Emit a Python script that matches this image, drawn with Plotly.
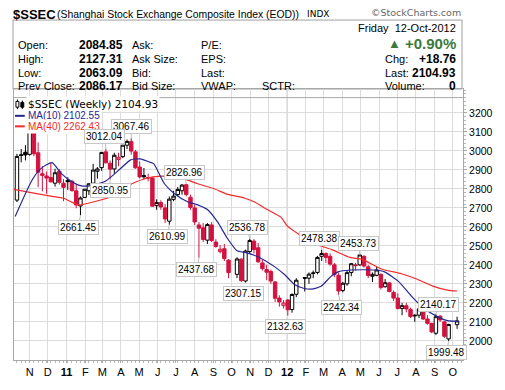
import plotly.graph_objects as go

# ---------------- data (weekly candles, Monday of each week) ----------------
dates = ["2010-10-11","2010-10-18","2010-10-25","2010-11-01","2010-11-08","2010-11-15","2010-11-22","2010-11-29",
         "2010-12-06","2010-12-13","2010-12-20","2010-12-27","2011-01-03","2011-01-10","2011-01-17","2011-01-24",
         "2011-01-31","2011-02-07","2011-02-14","2011-02-21","2011-02-28","2011-03-07","2011-03-14","2011-03-21",
         "2011-03-28","2011-04-04","2011-04-11","2011-04-18","2011-04-25","2011-05-02","2011-05-09","2011-05-16",
         "2011-05-23","2011-05-30","2011-06-06","2011-06-13","2011-06-20","2011-06-27","2011-07-04","2011-07-11",
         "2011-07-18","2011-07-25","2011-08-01","2011-08-08","2011-08-15","2011-08-22","2011-08-29","2011-09-05",
         "2011-09-12","2011-09-19","2011-09-26","2011-10-10","2011-10-17","2011-10-24","2011-10-31","2011-11-07",
         "2011-11-14","2011-11-21","2011-11-28","2011-12-05","2011-12-12","2011-12-19","2011-12-26","2012-01-02",
         "2012-01-09","2012-01-16","2012-01-30","2012-02-06","2012-02-13","2012-02-20","2012-02-27","2012-03-05",
         "2012-03-12","2012-03-19","2012-03-26","2012-04-02","2012-04-09","2012-04-16","2012-04-23","2012-04-30",
         "2012-05-07","2012-05-14","2012-05-21","2012-05-28","2012-06-04","2012-06-11","2012-06-18","2012-06-25",
         "2012-07-02","2012-07-09","2012-07-16","2012-07-23","2012-07-30","2012-08-06","2012-08-13","2012-08-20",
         "2012-08-27","2012-09-03","2012-09-10","2012-09-17","2012-09-24","2012-10-08"]
opens  = [2741,2980,2993,2982,3140,2990,2880,2868,2860,2830,2893,2830,2845,2840,2790,2710,
          2755,2790,2830,2893,2912,2995,2935,2905,2955,2970,3030,3050,2995,2915,2870,2860,
          2858,2712,2728,2700,2630,2745,2770,2790,2822,2756,2700,2610,2595,2530,2610,2520,
          2470,2485,2425,2350,2430,2315,2470,2525,2490,2410,2375,2365,2310,2225,2185,2215,
          2165,2245,2333,2330,2355,2360,2445,2460,2445,2400,2345,2265,2300,2360,2400,2400,
          2445,2390,2340,2345,2350,2285,2305,2255,2225,2170,2185,2165,2135,2135,2165,2115,
          2092,2040,2130,2100,2010,2085]
highs  = [2985,3010,3030,3140,3187,3045,2920,2892,2937,2906,2905,2852,2861,2848,2824,2760,
          2800,2830,2932,2915,2995,3012.04,2950,2990,2990,3030,3060,3067.46,3005,2945,2910,2880,
          2860,2745,2740,2720,2760,2790,2810,2826,2826.96,2770,2715,2625,2620,2620,2625,2535,
          2505,2510,2430,2440,2435,2480,2536.78,2535,2515,2425,2400,2375,2315,2240,2215,2220,
          2250,2330,2335,2360,2370,2447,2478.38,2465,2460,2410,2360,2310,2370,2410,2410,2453.73,
          2450,2400,2360,2390,2355,2325,2310,2265,2250,2200,2200,2175,2140,2180,2170,2135,
          2095,2140.17,2135,2105,2090,2127]
lows   = [2731,2940,2950,2975,2972,2809,2787,2774,2834,2812,2823,2735,2795,2785,2698,2661.45,
          2752,2768,2822,2854,2895,2935,2850.95,2880,2920,2962,3010,2980,2906,2855,2850,2840,
          2705,2690,2690,2620,2610.99,2735,2760,2770,2760,2690,2610,2437.68,2520,2510,2520,2490,
          2460,2420,2330,2330,2310,2307.15,2460,2460,2410,2370,2319,2300,2205,2180,2170,2132.63,
          2148,2230,2260,2300,2330,2350,2420,2410,2395,2335,2242.34,2255,2290,2340,2370,2395,
          2385,2330,2310,2340,2270,2280,2255,2210,2165,2135,2150,2120,2100,2120,2110,2085,
          2040,2030,2100,2015,1999.48,2063]
closes = [2971,2976,2979,3129,2985,2888,2871,2857,2837,2885,2835,2808,2838,2791,2715,2752,
          2798,2827,2899,2905,2992,2937,2904,2977,2967,3030,3050,2999,2911,2863,2864,2858,
          2709,2728,2705,2642,2746,2762,2797,2820,2770,2702,2626,2593,2534,2612,2528,2497,
          2482,2433,2359,2431,2317,2473,2528,2481,2416,2380,2361,2315,2224,2205,2199,2163,
          2244,2319,2330,2351,2357,2439,2460,2439,2404,2349,2262,2303,2359,2406,2396,2452,
          2394,2344,2350,2373,2281,2306,2260,2225,2170,2185,2168,2128,2132,2168,2115,2092,
          2047,2127,2110,2024,2086,2104.93]

# moving averages
ma10_dates = ["2010-10-08","2010-11-06","2010-11-20","2010-12-08","2010-12-23","2011-01-08","2011-01-24",
              "2011-02-11","2011-03-07","2011-03-30","2011-04-17","2011-05-03","2011-05-17","2011-05-25",
              "2011-06-12","2011-06-28","2011-07-21","2011-08-06","2011-08-22","2011-09-08","2011-09-24",
              "2011-10-10","2011-10-25","2011-11-16","2011-12-12","2011-12-28","2012-01-13","2012-01-28",
              "2012-02-10","2012-02-26","2012-03-13","2012-03-25","2012-04-15","2012-05-25","2012-06-10",
              "2012-07-03","2012-07-24","2012-08-14","2012-09-06","2012-09-22","2012-10-08"]
ma10_vals = [2655,2852,2908,2938,2882,2842,2817,2817,2842,2903,2953,2958,2943,2933,2827,2776,2731,2716,
             2691,2625,2540,2474,2464,2439,2388,2348,2297,2277,2272,2287,2338,2363,2373,2373,2363,2313,
             2237,2171,2126,2106,2102.55]
ma40_dates = ["2010-10-06","2010-11-01","2010-12-08","2010-12-27","2011-01-21","2011-02-14","2011-03-13",
              "2011-04-07","2011-05-09","2011-06-07","2011-07-10","2011-08-06","2011-09-01","2011-09-25",
              "2011-10-23","2011-11-08","2011-11-29","2011-12-22","2012-01-01","2012-01-23","2012-02-13",
              "2012-03-16","2012-04-14","2012-05-04","2012-06-05","2012-07-08","2012-08-04","2012-08-30",
              "2012-09-22","2012-10-08"]
ma40_vals = [2797,2782,2761,2751,2716,2731,2756,2807,2852,2867,2857,2827,2802,2771,2751,2731,2691,2650,
             2605,2555,2514,2479,2439,2429,2378,2353,2323,2287,2267,2262.43]

month_ticks = ["2010-11-01","2010-12-01","2011-01-01","2011-02-01","2011-03-01","2011-04-01","2011-05-01",
               "2011-06-01","2011-07-01","2011-08-01","2011-09-01","2011-10-01","2011-11-01","2011-12-01",
               "2012-01-01","2012-02-01","2012-03-01","2012-04-01","2012-05-01","2012-06-01","2012-07-01",
               "2012-08-01","2012-09-01","2012-10-01"]
month_text = ["N","D","<b>11</b>","F","M","A","M","J","J","A","S","O","N","D","<b>12</b>",
              "F","M","A","M","J","J","A","S","O"]
y_ticks = [2000,2100,2200,2300,2400,2500,2600,2700,2800,2900,3000,3100,3200]

# callout labels: (date, value, text, dx, dy)
callouts = [("2011-04-18",3067.46,"3067.46",0,-12),("2011-03-07",3012.04,"3012.04",-1,-12),
            ("2011-03-14",2850.95,"2850.95",0,11),("2011-01-24",2661.45,"2661.45",-2,12),
            ("2011-07-18",2826.96,"2826.96",-2,-11),("2011-06-20",2610.99,"2610.99",-2,12),
            ("2011-08-08",2437.68,"2437.68",-2,12),("2011-10-31",2536.78,"2536.78",-2,-11),
            ("2011-10-24",2307.15,"2307.15",-2,11),("2012-01-02",2132.63,"2132.63",-2,11),
            ("2012-02-27",2478.38,"2478.38",-2,-11),("2012-04-30",2453.73,"2453.73",-1,-11),
            ("2012-03-26",2242.34,"2242.34",3,13),("2012-09-03",2140.17,"2140.17",3,-10),
            ("2012-09-24",1999.48,"1999.48",-2,12)]

# ---------------- geometry ----------------
W, H = 505, 390
L, R, T, B = 14, 473, 89, 372
RED = "#d3123f"
NAVY = "#262693"
MARED = "#f22a2a"
FONT = "Liberation Sans, Arial, sans-serif"

def px(x):
    return (x - L) / (R - L)

def py(y):
    return (B - y) / (B - T)

# colour group by close vs previous close
blk = [i for i in range(len(closes)) if i == 0 or closes[i] >= closes[i - 1]]
red = [i for i in range(len(closes)) if i > 0 and closes[i] < closes[i - 1]]

def sub(arr, idx):
    return [arr[i] for i in idx]

fig = go.Figure()
fig.add_trace(go.Candlestick(
    x=sub(dates, blk), open=sub(opens, blk), high=sub(highs, blk), low=sub(lows, blk), close=sub(closes, blk),
    increasing=dict(line=dict(color="black", width=1), fillcolor="white"),
    decreasing=dict(line=dict(color="black", width=1), fillcolor="black"),
    whiskerwidth=0, showlegend=False, hoverinfo="skip"))
fig.add_trace(go.Candlestick(
    x=sub(dates, red), open=sub(opens, red), high=sub(highs, red), low=sub(lows, red), close=sub(closes, red),
    increasing=dict(line=dict(color=RED, width=1), fillcolor="white"),
    decreasing=dict(line=dict(color=RED, width=1), fillcolor=RED),
    whiskerwidth=0, showlegend=False, hoverinfo="skip"))
fig.add_trace(go.Scatter(x=ma40_dates, y=ma40_vals, mode="lines", line=dict(color=MARED, width=1.2, shape="spline", smoothing=0.6),
                         showlegend=False, hoverinfo="skip"))
fig.add_trace(go.Scatter(x=ma10_dates, y=ma10_vals, mode="lines", line=dict(color=NAVY, width=1.2, shape="spline", smoothing=0.6),
                         showlegend=False, hoverinfo="skip"))

annotations = []
shapes = []

def text(x, y, s, size=11, color="black", anchor="left", family=FONT):
    annotations.append(dict(xref="paper", yref="paper", x=px(x), y=py(y), text=s, showarrow=False,
                            xanchor=anchor, yanchor="middle", font=dict(size=size, color=color, family=family),
                            borderpad=0))

# header
text(12, 11, "<b>$SSEC</b>", size=13)
text(57, 11, "(Shanghai Stock Exchange Composite Index (EOD))", size=10.4)
text(313, 11, "INDX", size=9, family="DejaVu Sans, sans-serif")
text(472, 9, "\u00a9StockCharts.com", size=9.5, color="#666666", anchor="right", family="DejaVu Sans, sans-serif")
shapes.append(dict(type="rect", xref="paper", yref="paper", x0=px(13), x1=px(472), y0=py(17), y1=py(89),
                   line=dict(color="#a0a0a0", width=1), fillcolor="white", layer="below"))

rows_y = [43, 58, 72, 86]
labels1 = ["Open:", "High:", "Low:", "Prev Close:"]
vals1 = ["2084.85", "2127.31", "2063.09", "2086.17"]
labels2 = ["Ask:", "Ask Size:", "Bid:", "Bid Size:"]
labels3 = ["P/E:", "EPS:", "Last:", "VWAP:"]
for yy, a, v, b, c in zip(rows_y, labels1, vals1, labels2, labels3):
    text(17, yy, a, size=11)
    text(79, yy, "<b>" + v + "</b>", size=12)
    text(134, yy, b, size=11)
    text(204, yy, c, size=11)
text(267, 86, "SCTR:", size=11)
text(467, 25, "Friday&nbsp;&nbsp;12-Oct-2012", size=11, anchor="right")
text(395, 42, "\u25b2", size=13, color="#3a7a3a")
text(467, 42, "<b>+0.90%</b>", size=15, color="#3a7a3a", anchor="right")
text(392, 58, "Chg:", size=11)
text(467, 58, "<b>+18.76</b>", size=12, anchor="right")
text(392, 72, "Last:", size=11)
text(467, 72, "<b>2104.93</b>", size=12, anchor="right")
text(392, 86, "Volume:", size=11)
text(467, 86, "<b>0</b>", size=12, anchor="right")

# panel top line (vertical grid lines show above it, up to the header box)
shapes.append(dict(type="line", xref="paper", yref="paper", x0=0, x1=1, y0=py(98), y1=py(98),
                   line=dict(color="#a8a8a8", width=1)))

# in-chart legend
legend_rows = [(105, "$SSEC (Weekly) 2104.93", "black", "DejaVu Sans, sans-serif", 10.5),
               (117, "MA(10) 2102.55", NAVY, FONT, 10),
               (128, "MA(40) 2262.43", MARED, FONT, 10)]
for yy, s, col, fam, sz in legend_rows:
    annotations.append(dict(xref="paper", yref="paper", x=px(26), y=py(yy), text=s, showarrow=False,
                            xanchor="left", yanchor="middle", font=dict(size=sz, color=col, family=fam),
                            bgcolor="white", borderpad=1))
shapes.append(dict(type="rect", xref="paper", yref="paper", x0=px(14.5), x1=px(27), y0=py(134), y1=py(99),
                   line=dict(width=0), fillcolor="white", layer="above"))
shapes.append(dict(type="line", xref="paper", yref="paper", x0=px(15), x1=px(25), y0=py(117), y1=py(117),
                   line=dict(color=NAVY, width=2)))
shapes.append(dict(type="line", xref="paper", yref="paper", x0=px(15), x1=px(25), y0=py(128), y1=py(128),
                   line=dict(color=MARED, width=2)))
# candle icon
shapes.append(dict(type="line", xref="paper", yref="paper", x0=px(17.5), x1=px(17.5), y0=py(100), y1=py(110),
                   line=dict(color="black", width=1)))
shapes.append(dict(type="rect", xref="paper", yref="paper", x0=px(16), x1=px(19), y0=py(108), y1=py(102),
                   line=dict(color="black", width=1), fillcolor="white"))
shapes.append(dict(type="line", xref="paper", yref="paper", x0=px(22.5), x1=px(22.5), y0=py(101), y1=py(110),
                   line=dict(color="black", width=1)))
shapes.append(dict(type="rect", xref="paper", yref="paper", x0=px(21), x1=px(24), y0=py(108), y1=py(103),
                   line=dict(color="black", width=1), fillcolor="black"))

# year grid lines (darker)
for d in ["2011-01-01", "2012-01-01"]:
    shapes.append(dict(type="line", xref="x", yref="paper", x0=d, x1=d, y0=0, y1=1,
                       line=dict(color="#b0b0b0", width=1), layer="below"))

# callouts
for d, v, s, dx, dy in callouts:
    annotations.append(dict(x=d, y=v, xref="x", yref="y", text=s, showarrow=True, arrowhead=0,
                            arrowwidth=1, arrowcolor="#bdbdbd", ax=dx, ay=dy, standoff=0,
                            font=dict(size=10, color="black", family=FONT), bgcolor="white",
                            bordercolor="#c8c8c8", borderwidth=1, borderpad=1))

fig.update_layout(
    width=W, height=H, margin=dict(l=L, r=W - R, t=T, b=H - B, pad=0), autosize=False,
    paper_bgcolor="white", plot_bgcolor="white", boxgap=0.15, boxgroupgap=0.05,
    annotations=annotations, shapes=shapes,
    xaxis=dict(type="date", range=["2010-10-06 02:00", "2012-10-17 19:00"], rangeslider=dict(visible=False),
               tickmode="array", tickvals=month_ticks, ticktext=month_text, showgrid=True, gridcolor="#dcdcdc",
               gridwidth=1, showline=True, linecolor="#a8a8a8", linewidth=1, mirror=True, ticks="outside",
               ticklen=2, tickcolor="#a8a8a8", tickfont=dict(size=11, color="black", family=FONT),
               minor=dict(ticks="outside", ticklen=2, tickcolor="#b8b8b8", dtick=7 * 86400000,
                          tick0="2010-10-11", showgrid=False),
               zeroline=False, fixedrange=True),
    yaxis=dict(side="right", range=[1899, 3326], tickmode="array", tickvals=y_ticks,
               showgrid=True, gridcolor="#dcdcdc", gridwidth=1, showline=True, linecolor="#a8a8a8",
               linewidth=1, mirror=True, ticks="outside", ticklen=3, tickcolor="#a8a8a8",
               tickfont=dict(size=10.5, color="black", family=FONT),
               minor=dict(ticks="outside", ticklen=2, tickcolor="#b8b8b8", dtick=20, showgrid=False),
               zeroline=False, fixedrange=True),
)

post = ("document.body.style.margin='0';document.body.style.padding='0';"
        "document.body.style.overflow='hidden';"
        "var gd=document.getElementById('{plot_id}');"
        "Plotly.relayout(gd,{width:505,height:390});")
fig.write_html("out.html", config={"responsive": False, "displayModeBar": False}, post_script=post)
